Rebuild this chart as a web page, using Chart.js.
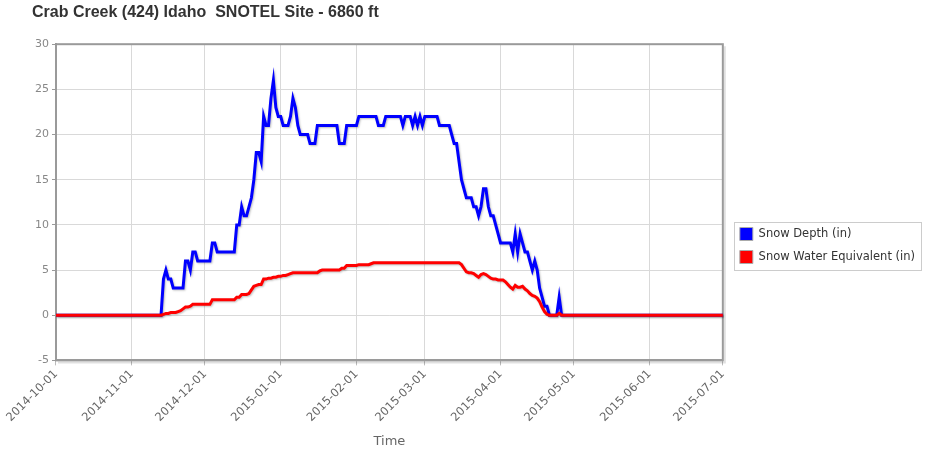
<!DOCTYPE html>
<html>
<head>
<meta charset="utf-8">
<script src="https://cdn.jsdelivr.net/npm/chart.js@4.4.1/dist/chart.umd.min.js"></script>
<style>
  html, body { margin: 0; padding: 0; background: #fff; }
  #wrap { width: 943px; height: 460px; }
</style>
</head>
<body>
<div id="wrap"><canvas id="chartSnow" width="943" height="460"></canvas></div>
<script>
/* Crab Creek SNOTEL — daily values, 2014-10-01 .. 2015-07-01 */

const startDay = '2014-10-01';
const endDay   = '2015-07-01';
const monthTicks = [
  '2014-10-01', '2014-11-01', '2014-12-01', '2015-01-01', '2015-02-01',
  '2015-03-01', '2015-04-01', '2015-05-01', '2015-06-01', '2015-07-01',
];

/* Snow depth (in), one value per day, per month */
const depthOct = [0,0,0,0,0,0,0,0,0,0, 0,0,0,0,0,0,0,0,0,0, 0,0,0,0,0,0,0,0,0,0, 0];
const depthNov = [0,0,0,0,0,0,0,0,0,0, 0,0,0,4,5,4,4,3,3,3, 3,3,6,6,5,7,7,6,6,6];
const depthDec = [6,6,6,8,8,7,7,7,7,7, 7,7,7,10,10,12,11,11,12,13, 15,18,18,17,22,21,21,24,26,23, 22];
const depthJan = [22,21,21,21,22,24,23,21,20,20, 20,20,19,19,19,21,21,21,21,21, 21,21,21,21,19,19,19,21,21,21, 21];
const depthFeb = [21,22,22,22,22,22,22,22,22,21, 21,21,22,22,22,22,22,22,22,21, 22,22,22,21,22,21,22,21];
const depthMar = [22,22,22,22,22,22,21,21,21,21, 21,20,19,19,17,15,14,13,13,13, 12,12,11,12,14,14,12,11,11,10, 9];
const depthApr = [8,8,8,8,8,7,9,7,9,8, 7,7,6,5,6,5,3,2,1,1, 0,0,0,0,2,0,0,0,0,0];
const depthMay = [0,0,0,0,0,0,0,0,0,0, 0,0,0,0,0,0,0,0,0,0, 0,0,0,0,0,0,0,0,0,0, 0];
const depthJun = [0,0,0,0,0,0,0,0,0,0, 0,0,0,0,0,0,0,0,0,0, 0,0,0,0,0,0,0,0,0,0];
const depthJul = [0];

/* Snow water equivalent (in) */
const sweOct = [0,0,0,0,0,0,0,0,0,0, 0,0,0,0,0,0,0,0,0,0, 0,0,0,0,0,0,0,0,0,0, 0];
const sweNov = [0,0,0,0,0,0,0,0,0,0, 0,0,0,0.1,0.2,0.2,0.3,0.3,0.3,0.4, 0.5,0.7,0.9,0.9,1.0,1.2,1.2,1.2,1.2,1.2];
const sweDec = [1.2,1.2,1.2,1.7,1.7,1.7,1.7,1.7,1.7,1.7, 1.7,1.7,1.7,2.0,2.0,2.3,2.3,2.3,2.4,2.8, 3.2,3.3,3.4,3.4,4.0,4.0,4.1,4.1,4.2,4.2, 4.3];
const sweJan = [4.3,4.4,4.4,4.5,4.6,4.7,4.7,4.7,4.7,4.7, 4.7,4.7,4.7,4.7,4.7,4.7,4.9,5.0,5.0,5.0, 5.0,5.0,5.0,5.0,5.0,5.2,5.2,5.5,5.5,5.5, 5.5];
const sweFeb = [5.5,5.6,5.6,5.6,5.6,5.6,5.7,5.8,5.8,5.8, 5.8,5.8,5.8,5.8,5.8,5.8,5.8,5.8,5.8,5.8, 5.8,5.8,5.8,5.8,5.8,5.8,5.8,5.8];
const sweMar = [5.8,5.8,5.8,5.8,5.8,5.8,5.8,5.8,5.8,5.8, 5.8,5.8,5.8,5.8,5.8,5.6,5.2,4.8,4.7,4.7, 4.6,4.4,4.2,4.5,4.6,4.5,4.3,4.1,4.0,4.0, 3.9];
const sweApr = [3.9,3.9,3.7,3.4,3.1,2.9,3.3,3.1,3.1,3.2, 2.9,2.7,2.4,2.2,2.1,1.9,1.5,0.9,0.4,0.1, 0,0,0,0,0.2,0,0,0,0,0];
const sweMay = [0,0,0,0,0,0,0,0,0,0, 0,0,0,0,0,0,0,0,0,0, 0,0,0,0,0,0,0,0,0,0, 0];
const sweJun = [0,0,0,0,0,0,0,0,0,0, 0,0,0,0,0,0,0,0,0,0, 0,0,0,0,0,0,0,0,0,0];
const sweJul = [0];

const depthData = [].concat(depthOct, depthNov, depthDec, depthJan, depthFeb,
                            depthMar, depthApr, depthMay, depthJun, depthJul);
const sweData   = [].concat(sweOct, sweNov, sweDec, sweJan, sweFeb,
                            sweMar, sweApr, sweMay, sweJun, sweJul);

/* daily category labels */
const labels = [];
for (let d = new Date(startDay + 'T00:00:00Z'); d <= new Date(endDay + 'T00:00:00Z'); d.setUTCDate(d.getUTCDate() + 1)) {
  labels.push(d.toISOString().slice(0, 10));
}

const FONT = "'DejaVu Sans', Verdana, sans-serif";

/* plot frame, line shadow, legend frame */
const framePlugin = {
  id: 'frame',
  afterLayout(chart) {
    // nudge legend a bit right / down, like the original
    const lg = chart.legend;
    lg.left += 7;  lg.right += 7;
    lg.top += 21;  lg.bottom += 21;
  },
  beforeDatasetsDraw(chart) {
    const { ctx, chartArea: a } = chart;
    ctx.save();
    ctx.strokeStyle = 'rgba(0,0,0,0.12)';
    ctx.lineWidth = 2;
    ctx.beginPath();
    ctx.moveTo(a.right + 2, a.top + 2);
    ctx.lineTo(a.right + 2, a.bottom + 2);
    ctx.lineTo(a.left + 2, a.bottom + 2);
    ctx.stroke();
    ctx.strokeStyle = '#9a9a9a';
    ctx.strokeRect(a.left, a.top, a.right - a.left, a.bottom - a.top);
    ctx.restore();
  },
  beforeDatasetDraw(chart) {
    const ctx = chart.ctx;
    ctx.save();
    ctx.shadowColor = 'rgba(0,0,0,0.25)';
    ctx.shadowOffsetX = 1;
    ctx.shadowOffsetY = 1;
    ctx.shadowBlur = 2;
  },
  afterDatasetDraw(chart) {
    chart.ctx.restore();
  },
  afterDraw(chart) {
    const boxes = chart.legend.legendHitBoxes;
    if (!boxes || !boxes.length) return;
    const ctx = chart.ctx;
    const l = Math.min(...boxes.map(b => b.left)) - 6;
    const t = Math.min(...boxes.map(b => b.top)) - 6;
    const r = Math.max(...boxes.map(b => b.left + b.width)) + 6;
    const btm = Math.max(...boxes.map(b => b.top + b.height)) + 6;
    ctx.save();
    ctx.strokeStyle = '#cccccc';
    ctx.lineWidth = 1;
    ctx.strokeRect(Math.round(l) + 0.5, Math.round(t) + 0.5, Math.round(r - l), Math.round(btm - t));
    ctx.restore();
  },
};

new Chart(document.getElementById('chartSnow'), {
  type: 'line',
  data: {
    labels,
    datasets: [
      {
        label: 'Snow Depth (in)',
        data: depthData,
        borderColor: '#0000ff',
        backgroundColor: '#0000ff',
        borderWidth: 3,
        pointRadius: 0,
        tension: 0,
        order: 2,
      },
      {
        label: 'Snow Water Equivalent (in)',
        data: sweData,
        borderColor: '#ff0000',
        backgroundColor: '#ff0000',
        borderWidth: 3,
        pointRadius: 0,
        tension: 0,
        order: 1,
      },
    ],
  },
  options: {
    responsive: false,
    animation: false,
    layout: { padding: { left: 32, right: 25, top: 0, bottom: 11 } },
    plugins: {
      title: {
        display: true,
        text: 'Crab Creek (424) Idaho  SNOTEL Site - 6860 ft',
        align: 'start',
        color: '#333333',
        font: { family: "'Liberation Sans', Arial, sans-serif", size: 16, weight: 'bold' },
        padding: { top: 3, bottom: 22 },
      },
      legend: {
        position: 'right',
        labels: {
          color: '#333333',
          font: { family: FONT, size: 11.5 },
          boxWidth: 13,
          boxHeight: 13,
          padding: 10,
          sort: (a, b) => a.datasetIndex - b.datasetIndex,
          generateLabels(chart) {
            return Chart.defaults.plugins.legend.labels.generateLabels(chart).map(it => {
              it.lineWidth = 1;
              it.strokeStyle = '#aaaaaa';
              return it;
            });
          },
        },
      },
      tooltip: { enabled: false },
    },
    scales: {
      x: {
        type: 'category',
        offset: false,
        border: { color: '#9a9a9a', width: 2 },
        grid: { color: '#d9d9d9', tickLength: 5, tickColor: '#bbbbbb' },
        ticks: {
          autoSkip: false,
          maxRotation: 45,
          minRotation: 45,
          color: '#666666',
          font: { family: FONT, size: 11.5 },
          padding: 2,
          callback: function (v) {
            const lab = this.getLabelForValue(v);
            return monthTicks.includes(lab) ? lab : null;
          },
        },
        title: {
          display: true,
          text: 'Time',
          color: '#666666',
          font: { family: FONT, size: 13 },
          padding: { top: 7, bottom: 0 },
        },
      },
      y: {
        min: -5,
        max: 30,
        border: { color: '#9a9a9a', width: 2 },
        grid: { color: '#d9d9d9', tickLength: 4, tickColor: '#9a9a9a' },
        ticks: {
          stepSize: 5,
          color: '#888888',
          font: { family: FONT, size: 11 },
          padding: 3,
        },
      },
    },
  },
  plugins: [framePlugin],
});
</script>
</body>
</html>
